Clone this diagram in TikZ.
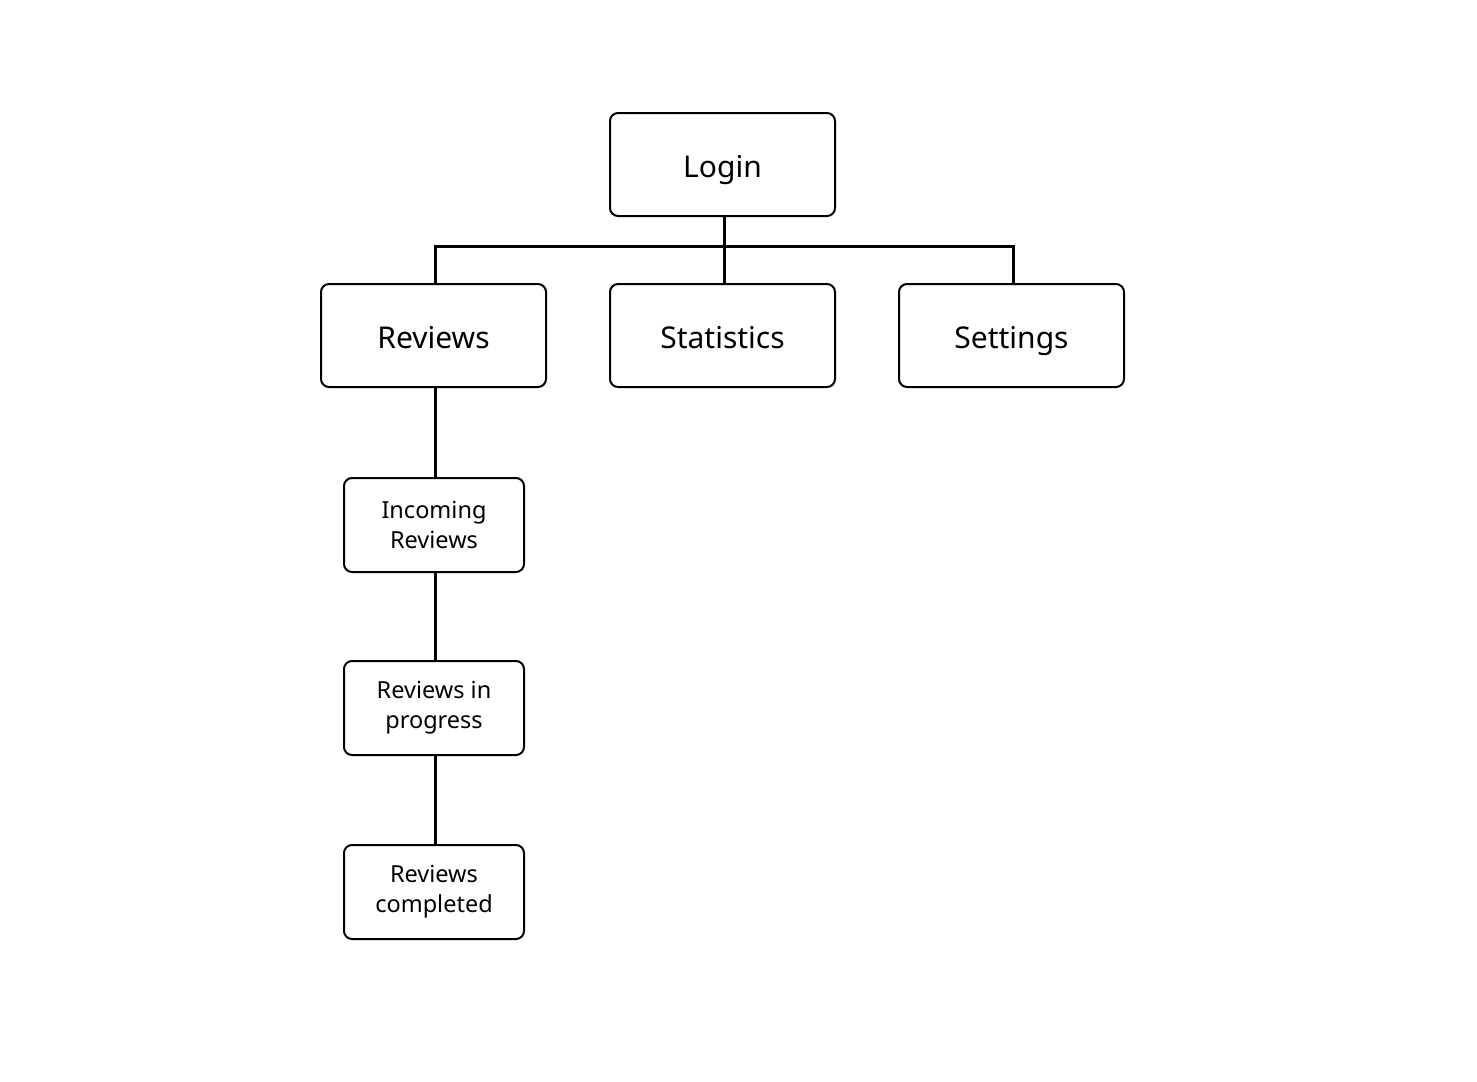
\documentclass[tikz,border=0pt]{standalone}
\usepackage{fontspec}
\setmainfont{Noto Sans}
\begin{document}
\begin{tikzpicture}[x=1pt,y=-1pt,
  bigbox/.style={draw, line width=2pt, rounded corners=8pt, minimum width=225pt, minimum height=103pt, inner sep=0pt, text height=29pt, text depth=4pt, font=\fontsize{30}{36}\selectfont},
  smallbox/.style={draw, line width=2pt, rounded corners=8pt, minimum width=180pt, minimum height=94pt, inner sep=0pt, align=center, font=\fontsize{23.5}{30}\selectfont},
  conn/.style={line width=3pt}]
\useasboundingbox (0,0) rectangle (1477,1081);
\node[bigbox] (login) at (722.5,164.5) {Login};
\node[bigbox] (reviews) at (433.5,335.5) {Reviews};
\node[bigbox] (stats) at (722.5,335.5) {Statistics};
\node[bigbox] (settings) at (1011.5,335.5) {Settings};
\node[smallbox] (incoming) at (434,525) {Incoming\\Reviews};
\node[smallbox] (progress) at (434,708) {Reviews in\\progress};
\node[smallbox] (completed) at (434,892) {Reviews\\completed};
\coordinate (j) at (724,246);
\draw[conn] (login.south -| j) -- (j);
\draw[conn] (j) -| ([xshift=1.5pt]reviews.north);
\draw[conn] (j) -- (stats.north -| j);
\draw[conn] (j) -| ([xshift=1.5pt]settings.north);
\draw[conn] ([xshift=1.5pt]reviews.south) -- ([xshift=1.5pt]reviews.south |- incoming.north);
\draw[conn] ([xshift=1pt]incoming.south) -- ([xshift=1pt]progress.north);
\draw[conn] ([xshift=1pt]progress.south) -- ([xshift=1pt]completed.north);
\end{tikzpicture}
\end{document}
